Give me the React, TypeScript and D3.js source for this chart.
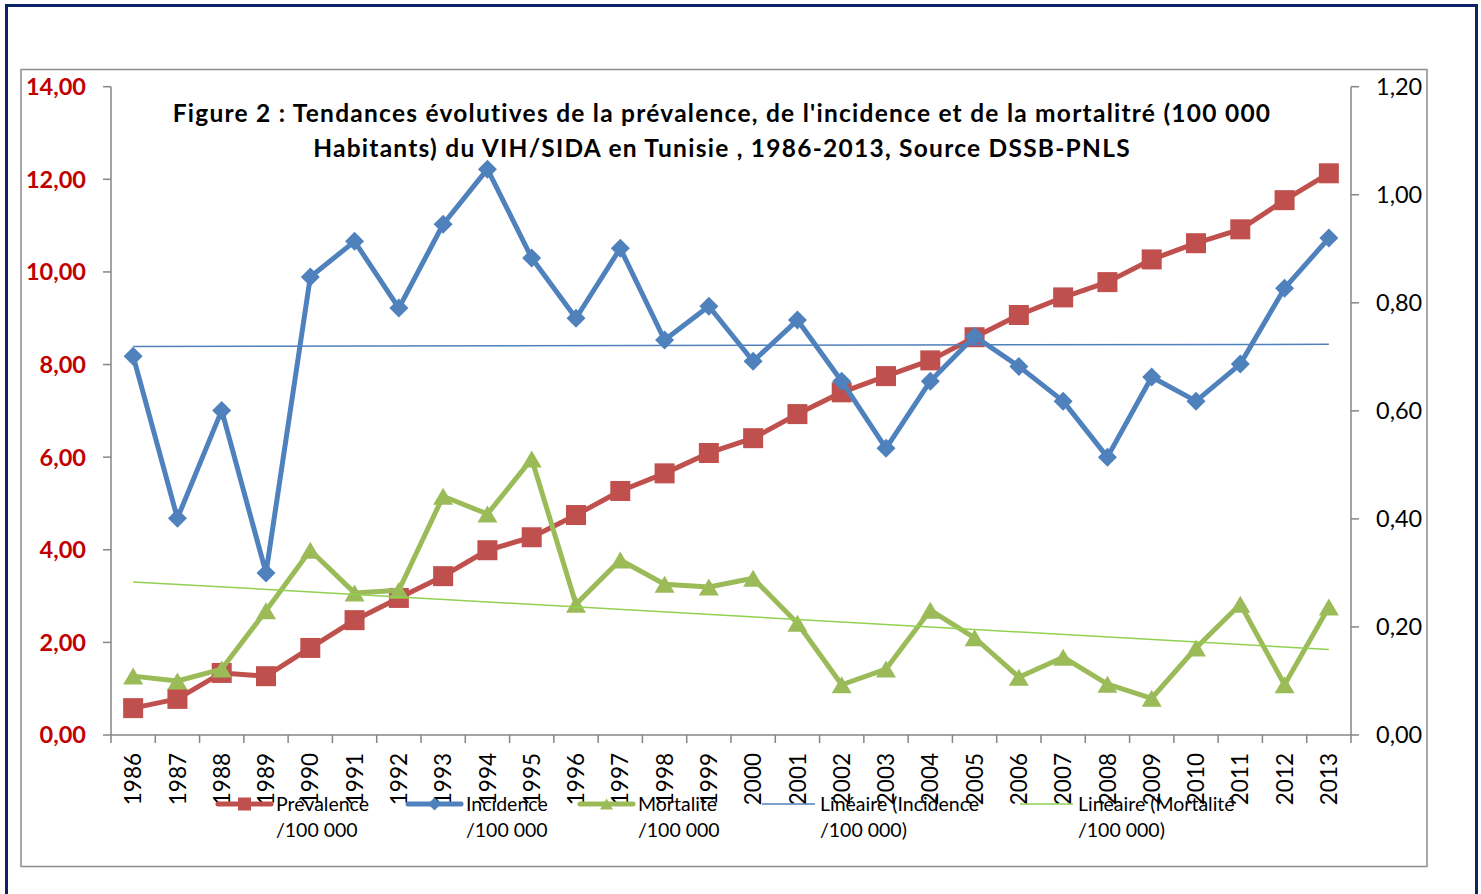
import React from 'react';
import * as d3 from 'd3';

// chart data
const years = ['1986', '1987', '1988', '1989', '1990', '1991', '1992', '1993', '1994', '1995',
  '1996', '1997', '1998', '1999', '2000', '2001', '2002', '2003', '2004', '2005',
  '2006', '2007', '2008', '2009', '2010', '2011', '2012', '2013'];

const prevalence = [0.58, 0.78, 1.34, 1.27, 1.88, 2.48, 2.96, 3.43, 3.99, 4.27,
  4.75, 5.27, 5.65, 6.09, 6.41, 6.93, 7.40, 7.75, 8.09, 8.59,
  9.07, 9.45, 9.78, 10.27, 10.62, 10.92, 11.55, 12.13];

const incidence = [8.18, 4.68, 7.01, 3.50, 9.89, 10.66, 9.22, 11.03, 12.22, 10.30,
  9.00, 10.51, 8.53, 9.26, 8.07, 8.96, 7.64, 6.19, 7.64, 8.61,
  7.96, 7.21, 6.00, 7.73, 7.21, 8.01, 9.65, 10.73];

// mortality is plotted against the right-hand axis
const mortalite = [0.109, 0.100, 0.122, 0.230, 0.342, 0.263, 0.268, 0.442, 0.409, 0.511,
  0.242, 0.324, 0.279, 0.274, 0.290, 0.207, 0.093, 0.122, 0.231, 0.180,
  0.107, 0.144, 0.094, 0.068, 0.161, 0.242, 0.093, 0.237];

const leftTicks = [0, 2, 4, 6, 8, 10, 12, 14];
const rightTicks = [0, 0.2, 0.4, 0.6, 0.8, 1.0, 1.2];

const titleLines = [
  "Figure 2 : Tendances évolutives de la prévalence, de l'incidence et de la mortalitré (100 000",
  'Habitants) du VIH/SIDA en Tunisie , 1986-2013, Source DSSB-PNLS',
];

const legendLabels = [
  ['Prévalence', '/100 000'],
  ['Incidence', '/100 000'],
  ['Mortalité', '/100 000'],
  ['Linéaire (Incidence', '/100 000)'],
  ['Linéaire (Mortalité', '/100 000)'],
];

const RED = '#C0504D';
const BLUE = '#4F81BD';
const GREEN = '#9BBB59';
const TREND_GREEN = '#92D050';
const AXIS = '#868686';
const FONT = 'Lato, "Open Sans", sans-serif';

// layout
const W = 1481;
const H = 894;
const plot = { left: 111, right: 1351, top: 86.7, bottom: 735 };

const fr = d3.formatLocale({ decimal: ',', thousands: ' ', grouping: [3], currency: ['', ''] });
const fmt = fr.format('.2f');

// least squares fit on the category index, like Excel's linear trendline
function linearFit(values: number[]) {
  const n = values.length;
  const xs = d3.range(n);
  const mx = d3.mean(xs) as number;
  const my = d3.mean(values) as number;
  let num = 0, den = 0;
  xs.forEach((x, i) => { num += (x - mx) * (values[i] - my); den += (x - mx) * (x - mx); });
  const slope = num / den;
  const icpt = my - slope * mx;
  return [icpt, icpt + slope * (n - 1)];
}

function marker(type: string, cx: number, cy: number, s: number, color: string, key?: any) {
  if (type === 'square') {
    return <rect key={key} x={cx - s / 2} y={cy - s / 2} width={s} height={s} fill={color} />;
  }
  if (type === 'diamond') {
    const r = s / 2;
    return <path key={key} d={`M${cx},${cy - r}L${cx + r},${cy}L${cx},${cy + r}L${cx - r},${cy}Z`} fill={color} />;
  }
  const w = s, h = s * 0.85;
  return <path key={key} d={`M${cx},${cy - h / 2}L${cx + w / 2},${cy + h / 2}L${cx - w / 2},${cy + h / 2}Z`} fill={color} />;
}

export default function App() {
  const x = d3.scaleBand().domain(years).range([plot.left, plot.right]).padding(0);
  const bw = x.bandwidth();
  const cx = (y: string) => (x(y) as number) + bw / 2;
  const yL = d3.scaleLinear().domain([0, 14]).range([plot.bottom, plot.top]);
  const yR = d3.scaleLinear().domain([0, 1.2]).range([plot.bottom, plot.top]);

  const lineL = d3.line<number>().x((d, i) => cx(years[i])).y(d => yL(d));
  const lineR = d3.line<number>().x((d, i) => cx(years[i])).y(d => yR(d));

  const incTrend = linearFit(incidence);
  const morTrend = linearFit(mortalite);
  const x0 = cx(years[0]);
  const x1 = cx(years[years.length - 1]);

  const series = [
    { data: prevalence, line: lineL, y: yL, color: RED, m: 'square', size: 20 },
    { data: incidence, line: lineL, y: yL, color: BLUE, m: 'diamond', size: 19 },
    { data: mortalite, line: lineR, y: yR, color: GREEN, m: 'triangle', size: 20 },
  ];

  // legend placement (line start x for each entry)
  const legendX = [218, 408, 580, 762, 1020];
  const legendKinds = ['square', 'diamond', 'triangle', 'trendBlue', 'trendGreen'];

  return (
    <svg width={W} height={H} style={{ position: 'absolute', left: 0, top: 0, background: '#fff' }}
      fontFamily={FONT}>
      {/* outer frame */}
      <rect x={6.5} y={5.5} width={1470} height={H + 20} fill="none" stroke="#0B2466" strokeWidth={3} />
      {/* chart area */}
      <rect x={21} y={69.5} width={1406} height={797} fill="#fff" stroke="#8C8C8C" strokeWidth={1.5} />

      {/* title */}
      <text textAnchor="middle" fontWeight="bold" fontSize={24.5} letterSpacing={1.25} fill="#000">
        <tspan x={722} y={122}>{titleLines[0]}</tspan>
        <tspan x={722} y={157}>{titleLines[1]}</tspan>
      </text>

      {/* left axis */}
      <line x1={plot.left} x2={plot.left} y1={plot.top} y2={plot.bottom} stroke={AXIS} strokeWidth={1.5} />
      {leftTicks.map(t => (
        <g key={'l' + t}>
          <line x1={plot.left - 8} x2={plot.left} y1={yL(t)} y2={yL(t)} stroke={AXIS} strokeWidth={1.5} />
          <text x={86} y={yL(t)} dy="0.36em" textAnchor="end" fontWeight="bold" fontSize={23.5} fill="#C00000">{fmt(t)}</text>
        </g>
      ))}

      {/* right axis */}
      <line x1={plot.right} x2={plot.right} y1={plot.top} y2={plot.bottom} stroke={AXIS} strokeWidth={1.5} />
      {rightTicks.map(t => (
        <g key={'r' + t}>
          <line x1={plot.right} x2={plot.right + 8} y1={yR(t)} y2={yR(t)} stroke={AXIS} strokeWidth={1.5} />
          <text x={1376} y={yR(t)} dy="0.36em" textAnchor="start" fontSize={23.5} fill="#000">{fmt(t)}</text>
        </g>
      ))}

      {/* category axis */}
      <line x1={plot.left} x2={plot.right} y1={plot.bottom} y2={plot.bottom} stroke={AXIS} strokeWidth={1.5} />
      {years.concat(['end']).map((y, i) => {
        const tx = plot.left + i * bw;
        return <line key={'t' + i} x1={tx} x2={tx} y1={plot.bottom} y2={plot.bottom + 8} stroke={AXIS} strokeWidth={1.5} />;
      })}
      {years.map(y => (
        <text key={'x' + y} transform={`translate(${cx(y)},753) rotate(-90)`} textAnchor="end" dy="0.36em"
          fontSize={22.5} fill="#000">{y}</text>
      ))}

      {/* series */}
      {series.map((s, si) => (
        <g key={'s' + si}>
          <path d={s.line(s.data) as string} fill="none" stroke={s.color} strokeWidth={5} strokeLinejoin="round" strokeLinecap="round" />
          {s.data.map((d, i) => marker(s.m, cx(years[i]), s.y(d), s.size, s.color, i))}
        </g>
      ))}

      {/* trendlines */}
      <line x1={x0} x2={x1} y1={yL(incTrend[0])} y2={yL(incTrend[1])} stroke={BLUE} strokeWidth={1.5} />
      <line x1={x0} x2={x1} y1={yR(morTrend[0])} y2={yR(morTrend[1])} stroke={TREND_GREEN} strokeWidth={1.5} />

      {/* legend */}
      {legendLabels.map((lab, i) => {
        const lx = legendX[i];
        const kind = legendKinds[i];
        const ly = 804;
        let sym: any = null;
        if (kind === 'trendBlue') sym = <line x1={lx} x2={lx + 53} y1={ly} y2={ly} stroke={BLUE} strokeWidth={1.5} />;
        else if (kind === 'trendGreen') sym = <line x1={lx} x2={lx + 53} y1={ly} y2={ly} stroke={TREND_GREEN} strokeWidth={1.5} />;
        else {
          const col = kind === 'square' ? RED : kind === 'diamond' ? BLUE : GREEN;
          sym = (
            <g>
              <line x1={lx} x2={lx + 53} y1={ly} y2={ly} stroke={col} strokeWidth={5} strokeLinecap="round" />
              {marker(kind, lx + 26.5, ly, 13, col)}
            </g>
          );
        }
        return (
          <g key={'lg' + i}>
            {sym}
            <text fontSize={19.5} fill="#000">
              <tspan x={lx + 58} y={811}>{lab[0]}</tspan>
              <tspan x={lx + 58} y={837}>{lab[1]}</tspan>
            </text>
          </g>
        );
      })}
    </svg>
  );
}
